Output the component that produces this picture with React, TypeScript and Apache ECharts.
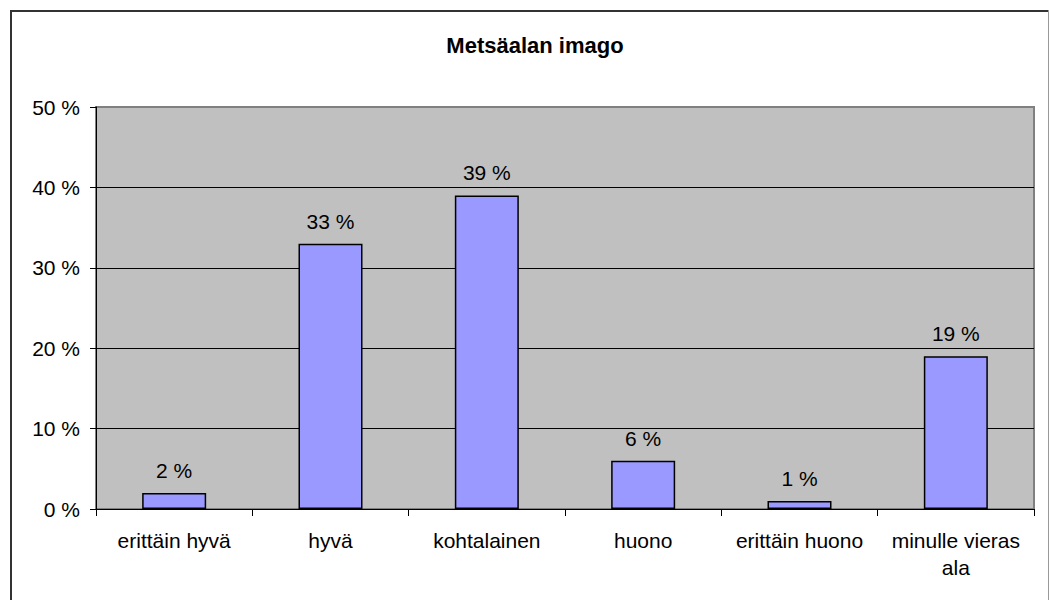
import React, { useEffect, useRef } from "react";
import * as echarts from "echarts";

const title = "Metsäalan imago";
const categories = ["erittäin hyvä", "hyvä", "kohtalainen", "huono", "erittäin huono", "minulle vieras ala"];
const values = [2, 33, 39, 6, 1, 19];
const yTicks = { min: 0, max: 50, interval: 10 };

const FONT = "Arial, 'Liberation Sans', sans-serif";

export default function App() {
  const ref = useRef<HTMLDivElement>(null);
  useEffect(() => {
    document.body.style.margin = "0";
    const chart = echarts.init(ref.current!, null, { renderer: "svg" });
    chart.setOption({
      animation: false,
      backgroundColor: "#ffffff",
      title: {
        text: title,
        left: 530,
        textAlign: "center",
        top: 30,
        textStyle: { fontFamily: FONT, fontSize: 22, fontWeight: "bold", color: "#000", lineHeight: 20 },
      },
      graphic: [
        { type: "line", shape: { x1: 11, y1: 11, x2: 1049, y2: 11 }, style: { stroke: "#333", lineWidth: 2 } },
        { type: "line", shape: { x1: 11, y1: 10, x2: 11, y2: 600 }, style: { stroke: "#333", lineWidth: 2 } },
        { type: "line", shape: { x1: 1048.5, y1: 10, x2: 1048.5, y2: 600 }, style: { stroke: "#999", lineWidth: 1 } },
      ],
      grid: {
        left: 96,
        top: 107,
        right: 15,
        bottom: 91,
        show: true,
        backgroundColor: "#C0C0C0",
        borderColor: "#808080",
        borderWidth: 2,
      },
      xAxis: {
        type: "category",
        data: categories,
        boundaryGap: true,
        axisLine: { show: true, lineStyle: { color: "#000", width: 1 } },
        axisTick: { show: true, length: 7, lineStyle: { color: "#000" } },
        axisLabel: {
          fontFamily: FONT,
          fontSize: 21,
          color: "#000",
          lineHeight: 27,
          margin: 18,
          interval: 0,
          formatter: (v: string) => {
            if (v.length > 14) {
              const i = v.lastIndexOf(" ");
              return v.slice(0, i) + "\n" + v.slice(i + 1);
            }
            return v;
          },
        },
      },
      yAxis: {
        type: "value",
        min: yTicks.min,
        max: yTicks.max,
        interval: yTicks.interval,
        axisLine: { show: true, lineStyle: { color: "#000", width: 1 } },
        axisTick: { show: true, length: 6, lineStyle: { color: "#000" } },
        axisLabel: {
          fontFamily: FONT,
          fontSize: 21,
          color: "#000",
          margin: 16,
          formatter: (v: number) => `${v} %`,
        },
        splitLine: { show: true, showMinLine: false, showMaxLine: false, lineStyle: { color: "#000", width: 1 } },
      },
      series: [
        {
          type: "bar",
          data: values,
          barWidth: 64,
          itemStyle: { color: "#9999FF", borderColor: "#000", borderWidth: 1.5 },
          label: {
            show: true,
            position: "top",
            distance: 12,
            fontFamily: FONT,
            fontSize: 21,
            color: "#000",
            formatter: (p: any) => `${p.value} %`,
          },
        },
      ],
    });
    return () => chart.dispose();
  }, []);
  return <div ref={ref} style={{ position: "fixed", left: 0, top: 0, width: 1049, height: 600 }} />;
}
